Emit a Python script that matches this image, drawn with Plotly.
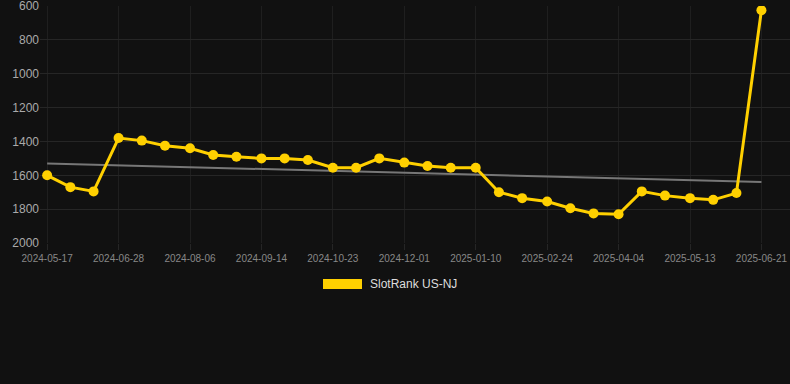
import plotly.graph_objects as go

dates = [
    "2024-05-17", "2024-05-30", "2024-06-12", "2024-06-26", "2024-07-09", "2024-07-22",
    "2024-08-05", "2024-08-18", "2024-08-31", "2024-09-14", "2024-09-27", "2024-10-10",
    "2024-10-24", "2024-11-06", "2024-11-19", "2024-12-03", "2024-12-16", "2024-12-29",
    "2025-01-12", "2025-01-25", "2025-02-07", "2025-02-21", "2025-03-06", "2025-03-19",
    "2025-04-02", "2025-04-15", "2025-04-28", "2025-05-12", "2025-05-25", "2025-06-07",
    "2025-06-21",
]
ranks = [
    1600, 1670, 1695, 1380, 1395, 1425, 1440, 1480, 1490, 1500, 1500, 1510,
    1555, 1555, 1500, 1525, 1545, 1555, 1555, 1700, 1735, 1755, 1795, 1825,
    1830, 1695, 1720, 1735, 1745, 1705, 625,
]
trend_dates = ["2024-05-17", "2025-06-21"]
trend_values = [1530, 1640]

tick_dates = ["2024-05-17", "2024-06-26", "2024-08-05", "2024-09-14", "2024-10-24",
              "2024-12-03", "2025-01-12", "2025-02-21", "2025-04-02", "2025-05-12",
              "2025-06-21"]
tick_labels = ["2024-05-17", "2024-06-28", "2024-08-06", "2024-09-14", "2024-10-23",
               "2024-12-01", "2025-01-10", "2025-02-24", "2025-04-04", "2025-05-13",
               "2025-06-21"]
y_ticks = [600, 800, 1000, 1200, 1400, 1600, 1800, 2000]
series_name = "SlotRank US-NJ"

BG = "#111111"
GOLD = "#FFD000"

fig = go.Figure()
fig.add_trace(go.Scatter(
    x=trend_dates, y=trend_values, mode="lines",
    line=dict(color="#777777", width=2), showlegend=False, hoverinfo="skip"))
fig.add_trace(go.Scatter(
    x=dates, y=ranks, mode="lines+markers", name=series_name,
    line=dict(color=GOLD, width=3), marker=dict(color=GOLD, size=10),
    showlegend=False))

fig.update_layout(
    width=790, height=384,
    paper_bgcolor=BG, plot_bgcolor=BG,
    margin=dict(l=40, r=0, t=6, b=141),
    font=dict(family="Liberation Sans, Arial, sans-serif", color="#999999"),
    xaxis=dict(
        type="date", range=["2024-05-13", "2025-07-07"],
        tickvals=tick_dates, ticktext=tick_labels,
        tickfont=dict(size=10, color="#888888"),
        showgrid=True, gridcolor="#1f1f1f", zeroline=False,
        ticks="outside", ticklen=6, tickcolor="#262626",
        showline=False, ticklabeloverflow="allow"),
    yaxis=dict(
        range=[2000, 599.5], tickvals=y_ticks,
        tickfont=dict(size=12, color="#aaaaaa"),
        showgrid=True, gridcolor="#262626", zeroline=False,
        showline=False, ticks="", ticklabeloverflow="allow"),
    shapes=[dict(type="rect", xref="paper", yref="paper",
                 x0=(323 - 40) / 750, x1=(362 - 40) / 750,
                 y0=(384 - 141 - 279) / 237, y1=(384 - 141 - 289) / 237,
                 fillcolor=GOLD, line=dict(width=0))],
    annotations=[dict(xref="paper", yref="paper",
                      x=(368 - 40) / 750, y=(384 - 141 - 284) / 237,
                      xanchor="left", yanchor="middle", showarrow=False,
                      text=series_name, font=dict(size=12, color="#dddddd"))],
)

fig.write_html(
    "out.html",
    config={"displayModeBar": False},
    post_script="document.body.style.margin='0';document.body.style.overflow='hidden';document.body.style.background='#111111';",
)
